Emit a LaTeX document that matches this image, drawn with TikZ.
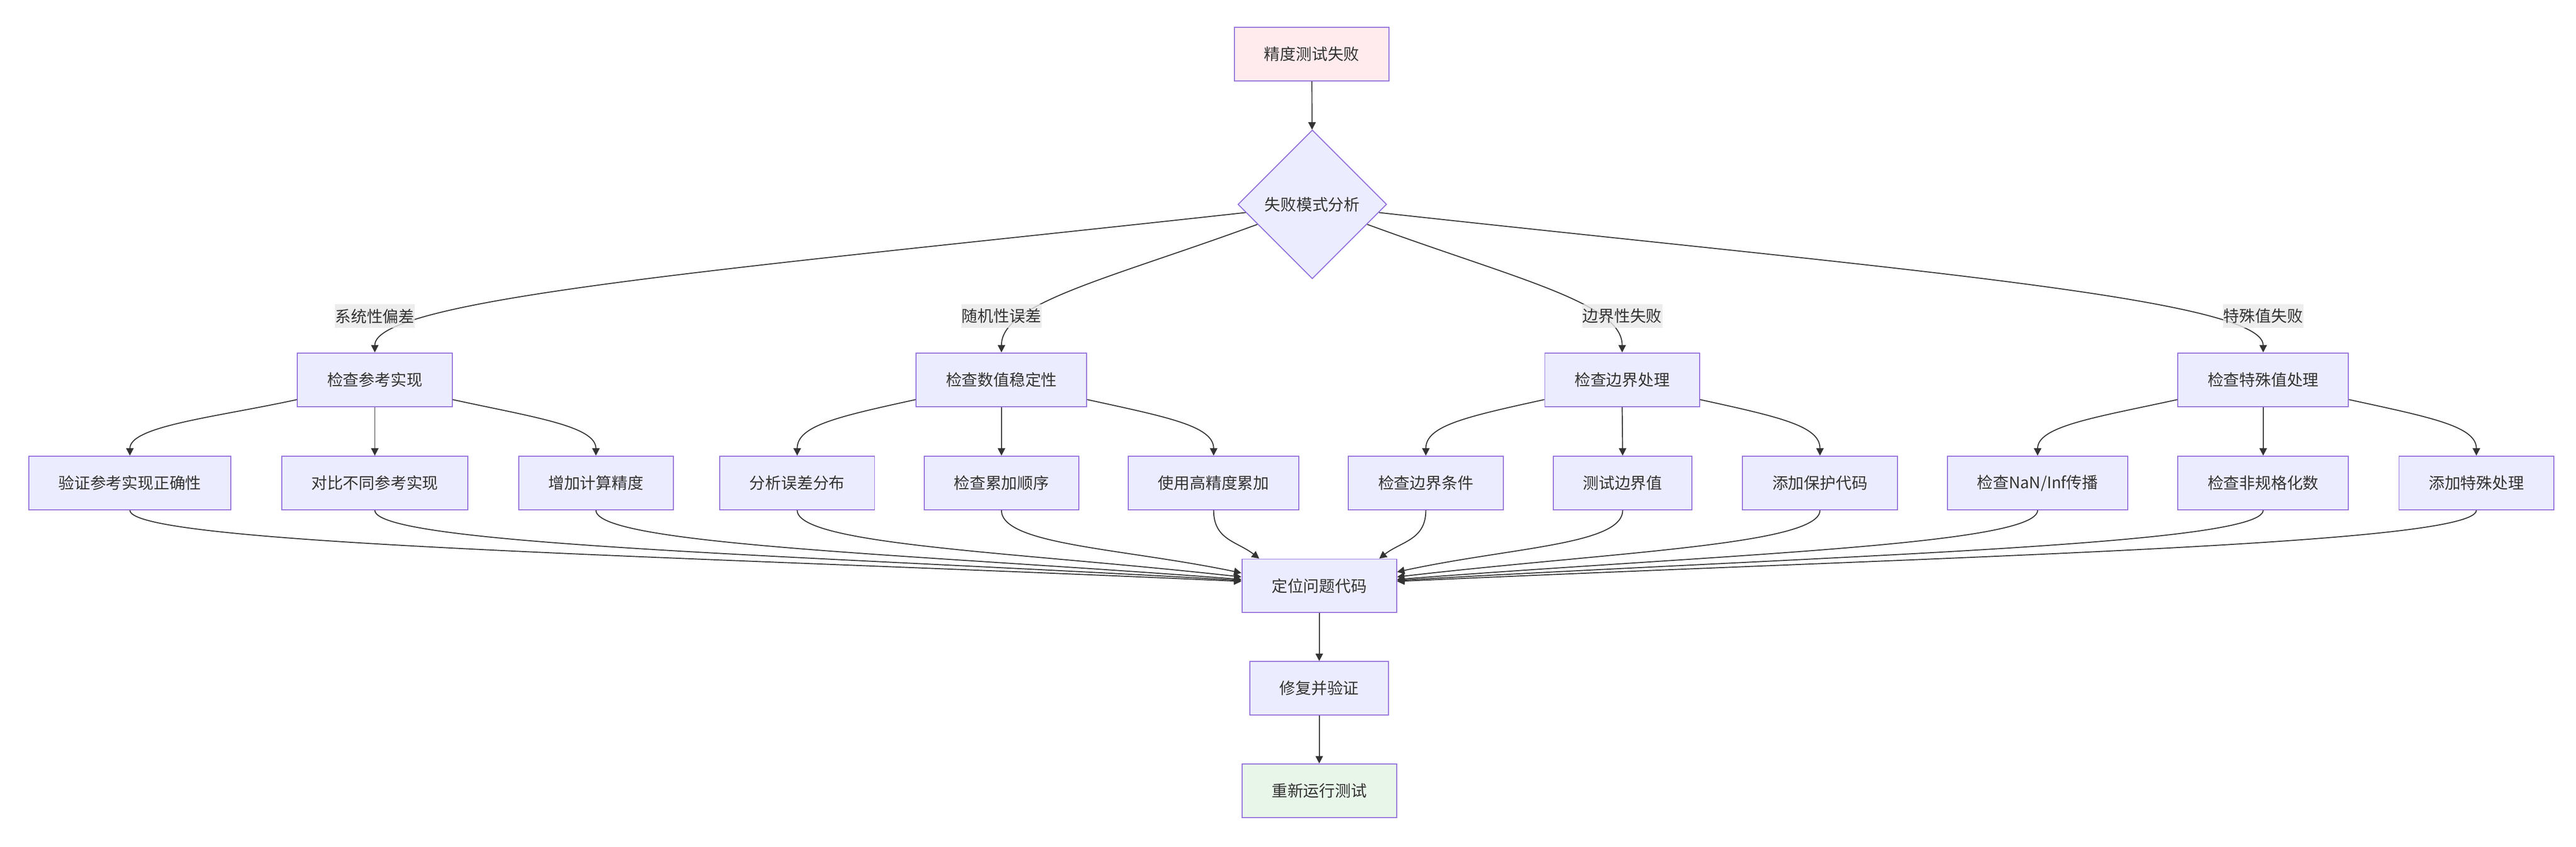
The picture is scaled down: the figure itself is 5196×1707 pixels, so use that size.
\documentclass[tikz,border=0pt]{standalone}
\usepackage{fontspec}
\setmainfont{Noto Sans CJK SC}
\usetikzlibrary{positioning, shapes.geometric, arrows.meta}
\definecolor{nodeFill}{HTML}{ECECFF}
\definecolor{nodeLine}{HTML}{9370DB}
\definecolor{startFill}{HTML}{FFEBEE}
\definecolor{doneFill}{HTML}{E8F5E9}
\definecolor{edgeColor}{HTML}{333333}
\definecolor{labelFill}{HTML}{E8E8E8}
\tikzstyle{chart} = [x = 1pt, y = -1pt]
\tikzstyle{stepBox} = [draw=nodeLine, fill=nodeFill, line width=2pt, inner xsep=60pt, inner ysep=0pt, minimum height=108pt, text=edgeColor, font=\fontsize{32}{38}\selectfont]
\tikzstyle{choiceBox} = [stepBox, shape=diamond, aspect=1, inner sep=0pt, minimum width=300pt, minimum height=300pt]
\tikzstyle{edgeLabel} = [fill=labelFill, fill opacity=0.8, text opacity=1, inner xsep=1pt, inner ysep=0pt, minimum height=48pt, text=edgeColor, font=\fontsize{32}{38}\selectfont]
\tikzstyle{flow} = [draw=edgeColor, line width=2pt, -{Triangle[length=15pt, width=15pt]}]
\newcommand{\fanOut}[4]{
  \draw [flow] ([yshift=-40pt]#1.west) .. controls +(-160,35) and +(0,-60) .. (#2.north);
  \draw [flow] (#1.south) -- (#3.north);
  \draw [flow] ([yshift=-40pt]#1.east) .. controls +(160,35) and +(0,-60) .. (#4.north);
}

\begin{document}
\begin{tikzpicture}[chart]
  \useasboundingbox (0,0) rectangle (5196,1707);
  \node [stepBox, fill=startFill] (fail) at (2646,109) {精度测试失败};
  \node [choiceBox] (mode) at (2647,412) {失败模式分析};

  \node [stepBox] (refImpl) at (756,765.5) {检查参考实现};
  \node [stepBox] (numStab) at (2020,765.5) {检查数值稳定性};
  \node [stepBox] (bound) at (3272,765.5) {检查边界处理};
  \node [stepBox] (special) at (4565,765.5) {检查特殊值处理};

  \node [stepBox] (verifyRef) at (262,973.5) {验证参考实现正确性};
  \node [stepBox] (compareRef) at (756,973.5) {对比不同参考实现};
  \node [stepBox] (morePrec) at (1202,973.5) {增加计算精度};
  \node [stepBox] (errDist) at (1608,973.5) {分析误差分布};
  \node [stepBox] (sumOrder) at (2020,973.5) {检查累加顺序};
  \node [stepBox] (hiPrecSum) at (2448,973.5) {使用高精度累加};
  \node [stepBox] (boundCond) at (2876,973.5) {检查边界条件};
  \node [stepBox] (boundVal) at (3273,973.5) {测试边界值};
  \node [stepBox] (guard) at (3671,973.5) {添加保护代码};
  \node [stepBox] (nanInf) at (4110,973.5) {检查NaN/Inf传播};
  \node [stepBox] (denorm) at (4565,973.5) {检查非规格化数};
  \node [stepBox] (specialFix) at (4995,973.5) {添加特殊处理};

  \node [stepBox] (locate) at (2661,1181) {定位问题代码};
  \node [stepBox] (fix) at (2661,1387.5) {修复并验证};
  \node [stepBox, fill=doneFill] (rerun) at (2661,1594) {重新运行测试};

  \draw [flow] (fail) -- (mode);
  \draw [flow] (mode.187) .. controls +(-1000,110) and +(0,-110) .. (refImpl.north);
  \draw [flow] (mode.200) .. controls +(-300,110) and +(0,-100) .. (numStab.north);
  \draw [flow] (mode.340) .. controls +(300,110) and +(0,-100) .. (bound.north);
  \draw [flow] (mode.353) .. controls +(1000,110) and +(0,-110) .. (special.north);

  \fanOut{refImpl}{verifyRef}{compareRef}{morePrec}
  \fanOut{numStab}{errDist}{sumOrder}{hiPrecSum}
  \fanOut{bound}{boundCond}{boundVal}{guard}
  \fanOut{special}{nanInf}{denorm}{specialFix}

  \foreach \src/\lift/\reach in {verifyRef/9/1100, compareRef/11/875, morePrec/13/650, errDist/18/450, sumOrder/26/240} {
    \draw [flow] (\src.south) .. controls +(0,70) and +(-\reach,-50) .. ([yshift=\lift pt]locate.west);
  }
  \foreach \src/\lift/\reach in {boundVal/28/230, guard/18/430, nanInf/13/650, denorm/11/875, specialFix/9/1090} {
    \draw [flow] (\src.south) .. controls +(0,70) and +(\reach,-50) .. ([yshift=\lift pt]locate.east);
  }
  \draw [flow] (hiPrecSum.south) .. controls +(0,60) and +(-45,-35) .. ([xshift=-121pt]locate.north);
  \draw [flow] (boundCond.south) .. controls +(0,60) and +(45,-35) .. ([xshift=121pt]locate.north);
  \draw [flow] (locate) -- (fix);
  \draw [flow] (fix) -- (rerun);

  \node [edgeLabel, above=49pt of refImpl] (sysLbl) {系统性偏差};
  \node [edgeLabel, above=49pt of numStab] (randLbl) {随机性误差};
  \node [edgeLabel, above=49pt of bound] (edgeLbl) {边界性失败};
  \node [edgeLabel, above=49pt of special] (specLbl) {特殊值失败};
\end{tikzpicture}
\end{document}
